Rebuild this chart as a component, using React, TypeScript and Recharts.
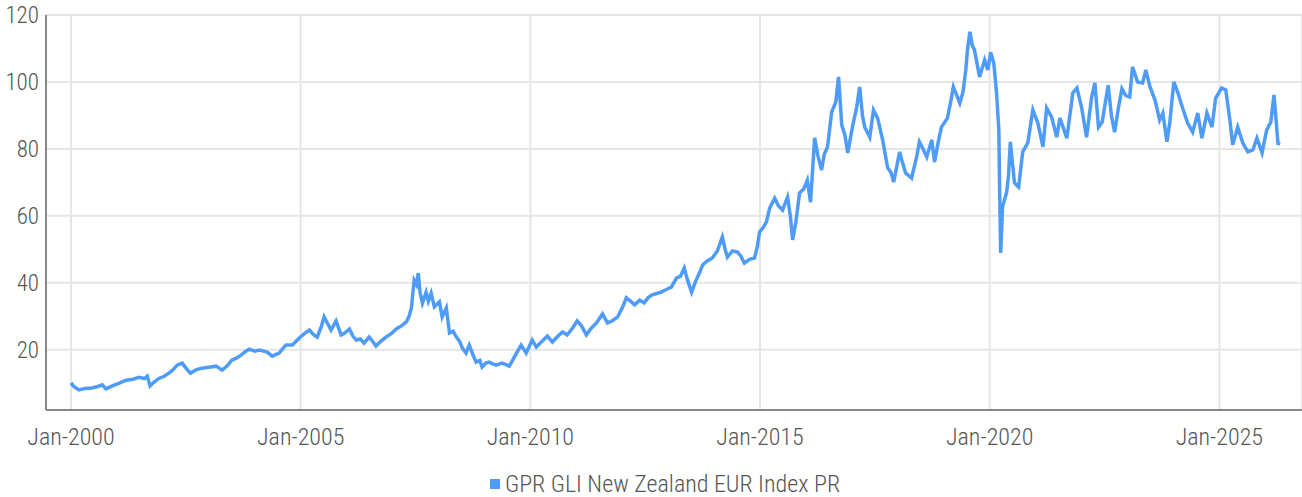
import { LineChart, Line, XAxis, YAxis, CartesianGrid, Legend } from 'recharts';

// decimal years, paired with index levels
const dates = [
  2000.0, 2000.06, 2000.17, 2000.3, 2000.45, 2000.58, 2000.68, 2000.76, 2000.9, 2001.05,
  2001.2, 2001.35, 2001.48, 2001.6, 2001.66, 2001.72, 2001.8, 2001.92, 2002.02, 2002.13,
  2002.22, 2002.31, 2002.42, 2002.52, 2002.6, 2002.72, 2002.85, 2003.0, 2003.16, 2003.29,
  2003.4, 2003.5, 2003.6, 2003.7, 2003.8, 2003.88, 2004.0, 2004.1, 2004.27, 2004.38,
  2004.53, 2004.6, 2004.68, 2004.82, 2004.97, 2005.08, 2005.19, 2005.28, 2005.36, 2005.45,
  2005.51, 2005.58, 2005.66, 2005.77, 2005.88, 2005.96, 2006.06, 2006.14, 2006.21, 2006.3,
  2006.38, 2006.49, 2006.56, 2006.64, 2006.75, 2006.86, 2006.97, 2007.08, 2007.2, 2007.3,
  2007.36, 2007.41, 2007.47, 2007.52, 2007.56, 2007.6, 2007.65, 2007.73, 2007.78, 2007.84,
  2007.91, 2008.02, 2008.08, 2008.17, 2008.24, 2008.32, 2008.39, 2008.46, 2008.52, 2008.6,
  2008.67, 2008.75, 2008.82, 2008.9, 2008.95, 2009.03, 2009.1, 2009.18, 2009.26, 2009.38,
  2009.46, 2009.54, 2009.6, 2009.65, 2009.72, 2009.8, 2009.91, 2010.04, 2010.13, 2010.25,
  2010.37, 2010.48, 2010.58, 2010.7, 2010.8, 2010.92, 2011.02, 2011.12, 2011.22, 2011.33,
  2011.44, 2011.57, 2011.68, 2011.78, 2011.9, 2012.0, 2012.09, 2012.18, 2012.27, 2012.38,
  2012.48, 2012.56, 2012.64, 2012.75, 2012.85, 2012.96, 2013.07, 2013.18, 2013.27, 2013.35,
  2013.43, 2013.51, 2013.6, 2013.68, 2013.75, 2013.85, 2013.96, 2014.07, 2014.18, 2014.24,
  2014.29, 2014.4, 2014.51, 2014.58, 2014.66, 2014.77, 2014.88, 2014.94, 2014.99, 2015.07,
  2015.14, 2015.21, 2015.32, 2015.4, 2015.49, 2015.6, 2015.66, 2015.71, 2015.78, 2015.86,
  2015.95, 2016.03, 2016.1, 2016.19, 2016.26, 2016.34, 2016.4, 2016.47, 2016.56, 2016.65,
  2016.71, 2016.78, 2016.85, 2016.91, 2017.02, 2017.1, 2017.17, 2017.23, 2017.28, 2017.39,
  2017.47, 2017.56, 2017.67, 2017.78, 2017.85, 2017.91, 2018.04, 2018.1, 2018.17, 2018.3,
  2018.41, 2018.47, 2018.55, 2018.63, 2018.74, 2018.8, 2018.88, 2018.95, 2019.08, 2019.15,
  2019.21, 2019.35, 2019.42, 2019.48, 2019.52, 2019.57, 2019.62, 2019.67, 2019.78, 2019.89,
  2019.96, 2020.02, 2020.09, 2020.15, 2020.2, 2020.22, 2020.24, 2020.28, 2020.37, 2020.41,
  2020.45, 2020.54, 2020.63, 2020.72, 2020.83, 2020.94, 2021.05, 2021.16, 2021.24, 2021.35,
  2021.46, 2021.53, 2021.68, 2021.81, 2021.9, 2022.0, 2022.11, 2022.22, 2022.29, 2022.37,
  2022.45, 2022.52, 2022.58, 2022.65, 2022.72, 2022.8, 2022.88, 2022.96, 2023.05, 2023.11,
  2023.22, 2023.33, 2023.4, 2023.49, 2023.6, 2023.7, 2023.77, 2023.86, 2023.92, 2024.01,
  2024.1, 2024.2, 2024.31, 2024.42, 2024.53, 2024.62, 2024.73, 2024.84, 2024.92, 2025.05,
  2025.14, 2025.23, 2025.29, 2025.4, 2025.51, 2025.62, 2025.73, 2025.82, 2025.93, 2026.03,
  2026.12, 2026.19, 2026.28, 2026.3,
];

const values = [
  10.1, 9.0, 8.0, 8.4, 8.6, 9.0, 9.5, 8.3, 9.2, 10.0,
  10.9, 11.2, 11.8, 11.4, 12.1, 9.2, 10.3, 11.5, 12.0, 13.0,
  14.0, 15.4, 16.0, 14.2, 13.0, 14.0, 14.5, 14.8, 15.1, 13.9,
  15.2, 16.9, 17.5, 18.4, 19.5, 20.2, 19.6, 19.9, 19.3, 18.1,
  19.0, 20.2, 21.4, 21.4, 23.5, 24.8, 25.9, 24.5, 23.8, 27.0,
  29.8, 28.0, 25.9, 28.6, 24.4, 25.0, 26.2, 24.0, 22.9, 23.2,
  22.0, 23.8, 22.6, 21.1, 22.6, 23.8, 24.8, 26.2, 27.2, 28.3,
  30.0, 32.5, 40.8, 39.5, 42.9, 37.0, 33.9, 37.2, 34.5, 36.9,
  32.8, 34.3, 29.8, 32.5, 25.0, 25.5, 23.8, 22.5, 20.5, 19.0,
  21.4, 18.5, 16.3, 16.8, 14.8, 16.0, 16.3, 15.8, 15.4, 16.0,
  15.6, 15.1, 16.5, 17.8, 19.5, 21.4, 19.0, 22.9, 20.8, 22.5,
  24.1, 22.3, 23.8, 25.3, 24.4, 26.5, 28.6, 27.0, 24.4, 26.5,
  28.0, 30.7, 28.0, 28.6, 29.8, 32.5, 35.5, 34.5, 33.4, 34.8,
  34.0, 35.5, 36.3, 36.8, 37.2, 38.0, 38.7, 41.4, 42.0, 44.4,
  40.5, 37.2, 40.5, 42.9, 45.3, 46.5, 47.4, 49.5, 53.7, 50.0,
  47.7, 49.5, 49.2, 48.0, 45.9, 47.0, 47.4, 50.7, 55.2, 56.5,
  58.2, 62.3, 65.3, 63.0, 61.7, 65.6, 60.0, 52.8, 58.0, 66.8,
  68.0, 70.7, 64.1, 83.3, 78.0, 73.7, 78.5, 80.6, 91.0, 94.0,
  101.5, 87.1, 84.0, 78.8, 87.1, 92.0, 98.5, 90.0, 86.5, 83.5,
  91.6, 89.2, 82.7, 74.3, 73.0, 70.1, 79.1, 76.0, 72.8, 71.3,
  77.6, 82.1, 80.0, 77.6, 82.7, 76.1, 82.0, 86.5, 89.2, 94.0,
  98.5, 93.7, 97.0, 103.6, 110.0, 115.0, 111.0, 109.5, 101.5, 106.6,
  103.6, 108.9, 105.6, 96.7, 85.6, 65.0, 48.9, 62.6, 67.1, 72.0,
  82.1, 69.8, 68.6, 79.1, 81.8, 91.6, 87.7, 80.6, 92.2, 89.5,
  83.5, 89.2, 83.2, 96.7, 98.2, 92.5, 83.5, 95.5, 99.7, 86.5,
  88.0, 94.0, 99.0, 90.0, 85.0, 92.0, 98.0, 96.0, 95.5, 104.5,
  100.0, 99.7, 103.6, 98.5, 94.6, 88.6, 90.7, 82.1, 87.7, 100.0,
  96.7, 92.2, 87.7, 85.0, 90.7, 83.2, 90.7, 86.5, 95.2, 98.2,
  97.6, 88.6, 81.2, 86.5, 81.8, 79.1, 79.7, 83.2, 78.8, 85.6,
  88.0, 96.1, 81.2, 82.1,
];

const xTicks = [2000, 2005, 2010, 2015, 2020, 2025];
const yTicks = [20, 40, 60, 80, 100, 120];
const seriesName = 'GPR GLI New Zealand EUR Index PR';

const data = dates.map((t, i) => ({ t, v: values[i] }));

const FONT = "'Roboto Condensed', 'DejaVu Sans Condensed', Roboto, sans-serif";
const LINE_COLOR = '#4f9cf8';
const TEXT = '#555';

const renderLegend = () => (
  <div
    style={{
      textAlign: 'center',
      paddingLeft: 28,
      paddingTop: 8,
      fontFamily: FONT,
      fontWeight: 300,
      fontSize: 24,
      color: TEXT,
    }}
  >
    <span
      style={{
        display: 'inline-block',
        width: 10,
        height: 10,
        background: LINE_COLOR,
        marginRight: 5,
        verticalAlign: 'middle',
      }}
    />
    <span style={{ verticalAlign: 'middle' }}>{seriesName}</span>
  </div>
);

export default function App() {
  return (
    <div style={{ position: 'absolute', left: 0, top: 0, background: '#fff' }}>
      <LineChart width={1302} height={497} data={data} margin={{ top: 15, right: 0, left: 0, bottom: 0 }}>
        <CartesianGrid stroke="#e6e6e6" strokeWidth={2} />
        <XAxis
          dataKey="t"
          type="number"
          domain={[1999.455, 2026.8]}
          ticks={xTicks}
          tickFormatter={(t: number) => `Jan-${t}`}
          axisLine={{ stroke: '#888', strokeWidth: 2 }}
          tickLine={false}
          tickMargin={12}
          height={50}
          tick={{ fontSize: 24, fill: TEXT, fontFamily: FONT, fontWeight: 300 }}
        />
        <YAxis
          type="number"
          domain={[2, 120]}
          ticks={yTicks}
          axisLine={{ stroke: '#888', strokeWidth: 2 }}
          tickLine={false}
          tickMargin={1}
          width={46}
          tick={{ fontSize: 23, fill: TEXT, fontFamily: FONT, fontWeight: 300 }}
        />
        <Legend verticalAlign="bottom" height={37} content={renderLegend} wrapperStyle={{ left: 0, width: 1302 }} />
        <Line
          type="linear"
          dataKey="v"
          name={seriesName}
          stroke={LINE_COLOR}
          strokeWidth={3.5}
          dot={false}
          isAnimationActive={false}
        />
      </LineChart>
    </div>
  );
}
